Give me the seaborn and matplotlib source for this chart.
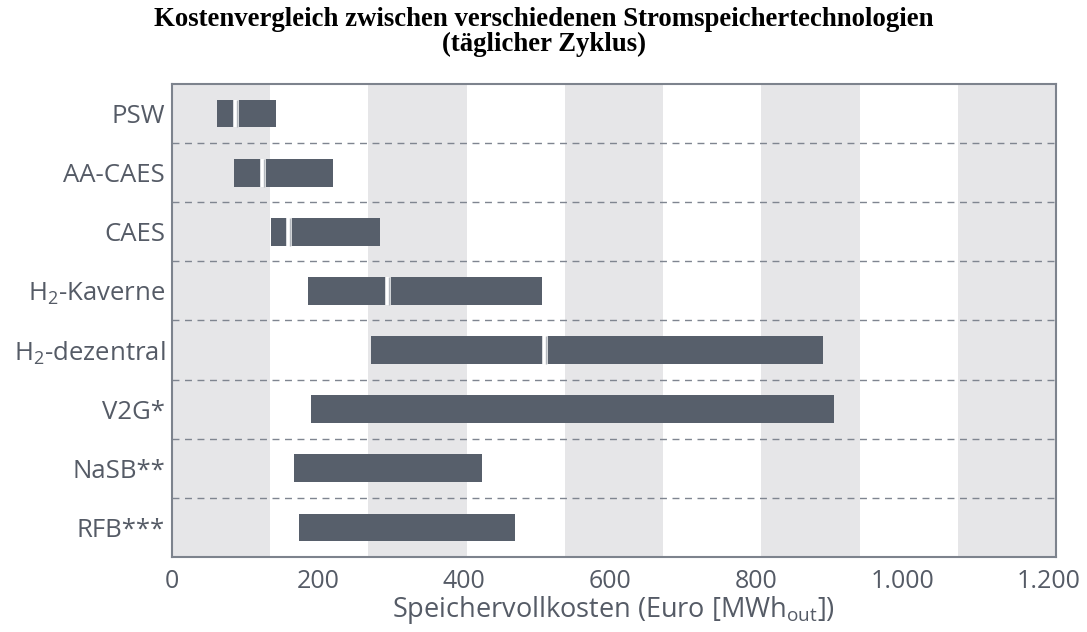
import matplotlib
matplotlib.use("Agg")
import matplotlib.pyplot as plt
import seaborn as sns
import numpy as np

# Grunddaten (Euro / MWh_out), von oben nach unten
technologien = ["PSW", "AA-CAES", "CAES", "H$_2$-Kaverne", "H$_2$-dezentral",
                "V2G*", "NaSB**", "RFB***"]
kosten_min = [61, 85, 136, 186, 272, 190, 167, 174]
kosten_max = [143, 220, 285, 507, 891, 906, 424, 470]
# Trennstelle innerhalb des Balkens (None = durchgehender Balken)
kosten_trenn = [87, 124, 160, 296, 511, None, None, None]

x_ticks = [0, 200, 400, 600, 800, 1000, 1200]
x_tick_labels = ["0", "200", "400", "600", "800", "1.000", "1.200"]

# Stil
sns.set_theme(style="white")
plt.rcParams["font.family"] = ["Open Sans", "DejaVu Sans"]
plt.rcParams["mathtext.fontset"] = "custom"
plt.rcParams["mathtext.rm"] = "Open Sans"
plt.rcParams["mathtext.it"] = "Open Sans"
plt.rcParams["mathtext.default"] = "regular"

balken_farbe = "#575f6b"
band_farbe = "#e6e6e8"
rahmen_farbe = "#7d838d"
text_farbe = "#555b66"

fig = plt.figure(figsize=(10.87, 6.32), dpi=100)
ax = fig.add_axes([0.1582, 0.1187, 0.8133, 0.7484])

x_max = 1210
ax.set_xlim(0, x_max)
ax.set_ylim(len(technologien) - 0.5, -0.5)

# Hintergrundstreifen (9 gleich breite Bänder, jedes zweite grau)
band_breite = x_max / 9
for i in range(0, 9, 2):
    ax.axvspan(i * band_breite, (i + 1) * band_breite, color=band_farbe, lw=0, zorder=0)

# gestrichelte Trennlinien zwischen den Zeilen
for k in range(len(technologien) - 1):
    ax.axhline(k + 0.5, color="#7f8590", lw=1.0, ls=(0, (5, 4)), zorder=1)

# Balken
pos = np.arange(len(technologien))
breite = np.array(kosten_max) - np.array(kosten_min)
hoehe = 0.47
ax.barh(pos, breite, left=kosten_min, height=hoehe, color=balken_farbe, lw=0, zorder=2)

for p, t in zip(pos, kosten_trenn):
    if t is not None:
        ax.vlines(t, p - hoehe / 2, p + hoehe / 2, color="white", lw=4, zorder=3)
        ax.vlines(t + 1.5, p - hoehe / 2, p + hoehe / 2, color="#b4b8be", lw=1, zorder=4)

# Achsen
ax.set_yticks(pos)
ax.set_yticklabels(technologien, fontsize=18.5, color=text_farbe)
ax.set_xticks(x_ticks)
ax.set_xticklabels(x_tick_labels, fontsize=18, color=text_farbe)
ax.tick_params(axis="both", length=0)
ax.tick_params(axis="y", pad=5)
ax.tick_params(axis="x", pad=9)
ax.set_xlabel("Speichervollkosten (Euro [MWh$_{out}$])", fontsize=19.5, color=text_farbe, labelpad=0)

for s in ax.spines.values():
    s.set_color(rahmen_farbe)
    s.set_linewidth(1.5)
    s.set_zorder(5)

# Titel
fig.text(0.5, 1 - 19 / 632, "Kostenvergleich zwischen verschiedenen Stromspeichertechnologien",
         ha="center", va="center", fontsize=19.3, fontweight="bold",
         family=["Liberation Serif", "DejaVu Serif"], color="black")
fig.text(0.5, 1 - 44 / 632, "(täglicher Zyklus)",
         ha="center", va="center", fontsize=19.3, fontweight="bold",
         family=["Liberation Serif", "DejaVu Serif"], color="black")

fig.savefig("out.png", dpi=100)
